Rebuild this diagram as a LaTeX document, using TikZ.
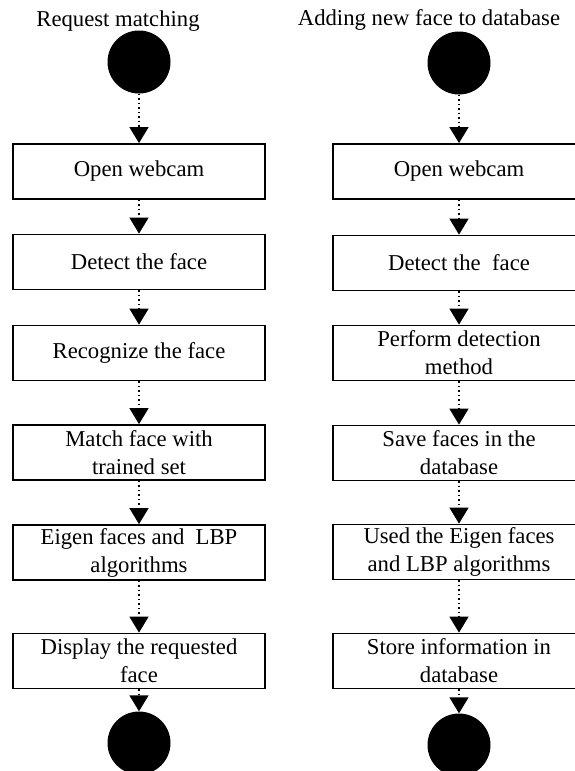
\documentclass[tikz,border=0pt]{standalone}
\usepackage{fontspec}
\setmainfont{Liberation Serif}
\usetikzlibrary{positioning, arrows.meta}

\begin{document}
\begin{tikzpicture}[
    x=1pt, y=-1pt,
    every node/.style={font=\fontsize{22.7pt}{28pt}\selectfont},
    stepbox/.style={draw, line width=1.8pt, minimum width=252pt,
      minimum height=55pt, inner sep=0pt, align=center},
    blackdot/.style={circle, fill=black, minimum size=63pt, inner sep=0pt},
    flowarrow/.style={line width=1.5pt, dash pattern=on 1.5pt off 3pt,
      -{Triangle[width=19pt, length=16pt]}}
  ]

  % fixed page size
  \useasboundingbox (0,0) rectangle (574,771);

  % ============================================================
  %  LEFT — Request matching
  % ============================================================
  \node[anchor=base] (reqtitle) at (118,26) {Request matching};
  \node[blackdot] (reqstart) at (139,62) {};

  \node[stepbox] (req1) at (139,171.5) {Open webcam};
  \node[stepbox] (req2) at (139,262) {Detect the face};
  \node[stepbox] (req3) at (139,353) {Recognize the face};
  \node[stepbox] (req4) at (139,452.5) {Match face with\\trained set};
  \node[stepbox] (req5) at (139,552.5) {Eigen faces and\ \ LBP\\algorithms};
  \node[stepbox] (req6) at (139,661) {Display the requested\\face};

  \node[blackdot] (reqend) at (139,743) {};

  % dotted flow
  \draw[flowarrow] (reqstart) -- (req1);
  \draw[flowarrow] (req1) -- (req2);
  \draw[flowarrow] (req2) -- (req3);
  \draw[flowarrow] (req3) -- (req4);
  \draw[flowarrow] (req4) -- (req5);
  \draw[flowarrow] (req5) -- (req6);
  \draw[flowarrow] (req6) -- (reqend);

  % ============================================================
  %  RIGHT — Adding new face to database
  % ============================================================
  \node[anchor=base] (addtitle) at (429,25) {Adding new face to database};
  \node[blackdot] (addstart) at (459,63) {};

  \node[stepbox] (add1) at (459,171.5) {Open webcam};
  \node[stepbox] (add2) at (459,263) {Detect the\ \ face};
  \node[stepbox] (add3) at (459,353) {Perform detection\\method};
  \node[stepbox] (add4) at (459,453) {Save faces in the\\database};
  \node[stepbox] (add5) at (459,552) {Used the Eigen faces\\and LBP algorithms};
  \node[stepbox] (add6) at (459,661) {Store information in\\database};

  \node[blackdot] (addend) at (459,745) {};

  % dotted flow
  \draw[flowarrow] (addstart) -- (add1);
  \draw[flowarrow] (add1) -- (add2);
  \draw[flowarrow] (add2) -- (add3);
  \draw[flowarrow] (add3) -- (add4);
  \draw[flowarrow] (add4) -- (add5);
  \draw[flowarrow] (add5) -- (add6);
  \draw[flowarrow] (add6) -- (addend);

\end{tikzpicture}
\end{document}
